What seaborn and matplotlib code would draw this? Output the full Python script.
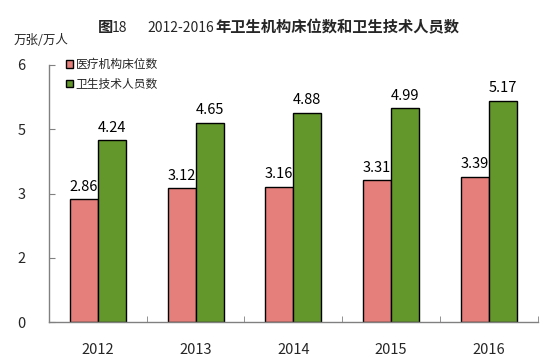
import matplotlib
matplotlib.use("Agg")
import matplotlib.pyplot as plt
import seaborn as sns
import pandas as pd
from matplotlib.ticker import FixedLocator

years = ["2012", "2013", "2014", "2015", "2016"]
beds = [2.86, 3.12, 3.16, 3.31, 3.39]
staff = [4.24, 4.65, 4.88, 4.99, 5.17]
series_names = ["医疗机构床位数", "卫生技术人员数"]
ytick_values = [0, 1.5, 3, 4.5, 6]
ytick_labels = ["0", "2", "3", "5", "6"]

df = pd.DataFrame({
    "year": years * 2,
    "value": beds + staff,
    "series": [series_names[0]] * len(years) + [series_names[1]] * len(years),
})

sns.set_style("white")
plt.rcParams["font.family"] = ["Noto Sans CJK SC", "DejaVu Sans"]

fig = plt.figure(figsize=(5.59, 3.63), dpi=100)
ax = fig.add_axes([49 / 559, 1 - 322 / 363, (537.5 - 49) / 559, (322 - 65) / 363])

palette = {series_names[0]: "#E57F7C", series_names[1]: "#63962B"}
sns.barplot(data=df, x="year", y="value", hue="series", palette=palette,
            width=0.573, edgecolor="black", linewidth=1.0, saturation=1,
            ax=ax, legend=True)

for c in ax.containers:
    ax.bar_label(c, fmt="%.2f", padding=4, fontsize=10.5, color="black")

ax.set_ylim(0, 6)
ax.set_xlim(-0.5, 4.5)
ax.set_yticks(ytick_values)
ax.set_yticklabels(ytick_labels, fontsize=10.5)
ax.set_xlabel("")
ax.set_ylabel("")
ax.tick_params(axis="y", direction="in", length=4, color="#808080", pad=17, left=True)
ax.tick_params(axis="x", which="major", length=0, pad=15, labelsize=10.5)
ax.xaxis.set_minor_locator(FixedLocator([0.5, 1.5, 2.5, 3.5, 4.5]))
ax.tick_params(axis="x", which="minor", direction="in", length=4, color="#808080", bottom=True)

for s in ["top", "right"]:
    ax.spines[s].set_visible(False)
for s in ["left", "bottom"]:
    ax.spines[s].set_color("#808080")
    ax.spines[s].set_linewidth(1.0)

handles, labels = ax.get_legend_handles_labels()
ax.legend(handles, labels, loc="upper left", bbox_to_anchor=(66 / 559, 1 - 58 / 363),
          bbox_transform=fig.transFigure, frameon=False, fontsize=8.5,
          handlelength=0.6, handleheight=0.6, handletextpad=0.2,
          labelspacing=0.55, borderpad=0, borderaxespad=0)

# title pieces
yb = 1 - 32 / 363
fig.text(98 / 559, yb, "图", fontsize=11, fontweight="bold", va="baseline", ha="left")
fig.text(112 / 559, yb, "18", fontsize=10, fontweight="light", va="baseline", ha="left")
fig.text(214 / 559, yb, "2012-2016", fontsize=10, fontweight="light", va="baseline", ha="right")
fig.text(215 / 559, yb, "年卫生机构床位数和卫生技术人员数", fontsize=11, fontweight="bold",
         va="baseline", ha="left")
fig.text(14 / 559, 1 - 40 / 363, "万张/万人", fontsize=9, va="center", ha="left")

fig.savefig("out.png", dpi=100)
